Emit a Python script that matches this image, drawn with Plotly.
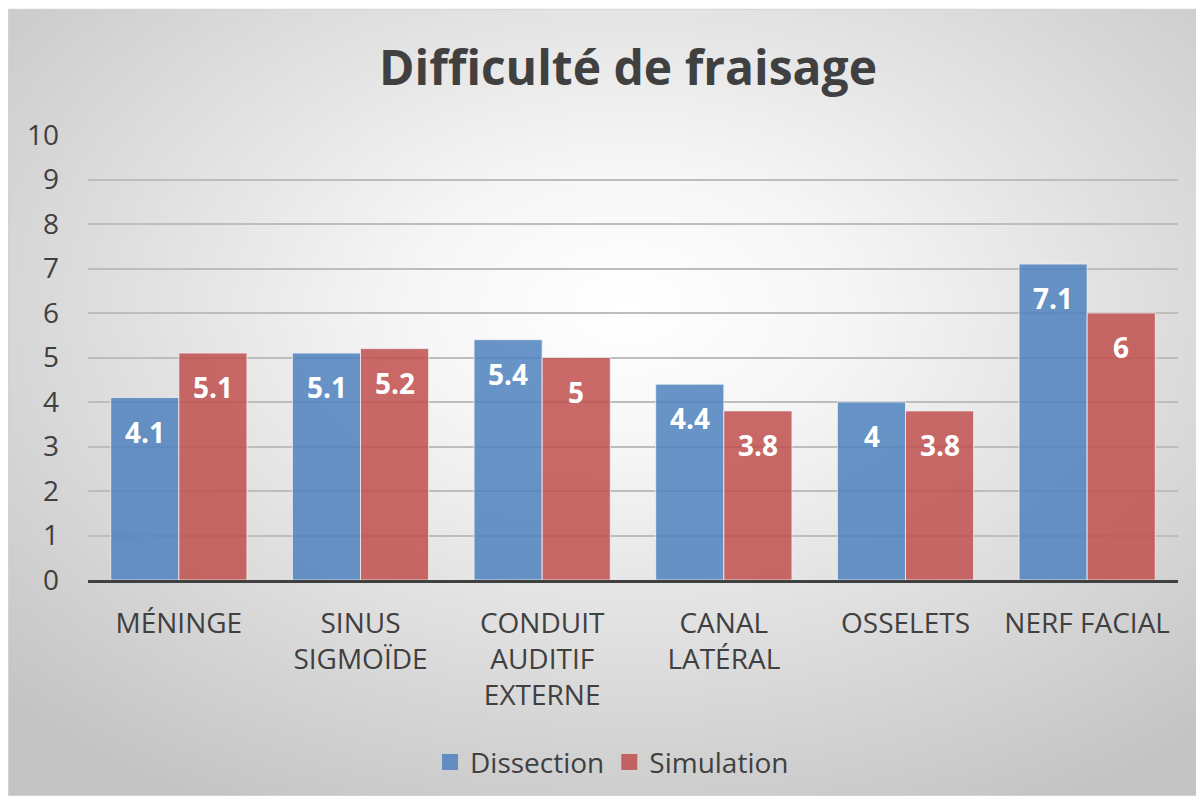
import base64
import plotly.graph_objects as go

# données
categories = ["MÉNINGE", "SINUS<br>SIGMOÏDE", "CONDUIT<br>AUDITIF<br>EXTERNE",
              "CANAL<br>LATÉRAL", "OSSELETS", "NERF FACIAL"]
series_names = ["Dissection", "Simulation"]
dissection = [4.1, 5.1, 5.4, 4.4, 4.0, 7.1]
simulation = [5.1, 5.2, 5.0, 3.8, 3.8, 6.0]
y_ticks = list(range(0, 11))

BLUE = "rgba(79,129,189,0.85)"
RED = "rgba(192,80,77,0.85)"

W, H = 1192, 791
ml, mr, mt, mb = 80, 22, 127, 217
pw, ph = W - ml - mr, H - mt - mb

# fond dégradé radial (style Excel)
svg = f"""<svg xmlns='http://www.w3.org/2000/svg' width='{W}' height='{H}' viewBox='0 0 {W} {H}'>
<defs><radialGradient id='g' cx='0.52' cy='0.38' r='0.72'>
<stop offset='0' stop-color='#ffffff'/><stop offset='0.25' stop-color='#f6f6f6'/>
<stop offset='1' stop-color='#c4c4c4'/></radialGradient></defs>
<rect x='0.5' y='0.5' width='{W-1}' height='{H-1}' fill='url(#g)' stroke='#d2d2d2' stroke-width='1'/>
</svg>"""
bg = "data:image/svg+xml;base64," + base64.b64encode(svg.encode()).decode()

fig = go.Figure()
for name, vals, col, side in [("Dissection", dissection, BLUE, -1),
                              ("Simulation", simulation, RED, 1)]:
    fig.add_trace(go.Bar(x=categories, y=vals, name=name, showlegend=False,
                         marker=dict(color=col, line=dict(color="rgba(240,240,245,0.8)", width=1))))
    # étiquettes de valeurs
    for c, v in zip(categories, vals):
        fig.add_annotation(x=c, y=v, text=f"<b>{v:g}</b>", showarrow=False,
                           xshift=side * 34, yshift=-34, yanchor="middle",
                           font=dict(color="white", size=28, family="Open Sans"))
    # entrée de légende (carré plus grand)
    fig.add_trace(go.Scatter(x=[None], y=[None], mode="markers", name=name,
                             marker=dict(symbol="square", size=18, color=col)))

fig.update_layout(
    width=W, height=H,
    margin=dict(l=ml, r=mr, t=mt, b=mb),
    paper_bgcolor="white", plot_bgcolor="rgba(0,0,0,0)",
    barmode="group", bargap=0.25, bargroupgap=0,
    font=dict(family="Open Sans", color="#404040", size=28),
    title=dict(text="<b>Difficulté de fraisage</b>", x=620 / W, xanchor="center",
               y=1 - 60 / H, yanchor="middle", font=dict(size=48, color="#404040")),
    legend=dict(orientation="h", x=(604 - ml) / pw, xanchor="center",
                y=-(757 - mt - ph) / ph, yanchor="middle",
                font=dict(size=28, color="#404040"), bgcolor="rgba(0,0,0,0)",
                itemwidth=30, traceorder="normal"),
    images=[dict(source=bg, xref="paper", yref="paper",
                 x=-ml / pw, y=1 + mt / ph, sizex=W / pw, sizey=H / ph,
                 xanchor="left", yanchor="top", sizing="stretch", layer="below")],
)
fig.update_yaxes(range=[0, 10], tickvals=y_ticks, showgrid=True, gridcolor="#bdbdbd",
                 gridwidth=1.5, zeroline=False, showline=False, ticks="",
                 ticklabelstandoff=28, tickfont=dict(size=28))
fig.update_xaxes(showline=True, linecolor="#404040", linewidth=3, ticks="",
                 tickfont=dict(size=28), ticklabelstandoff=16)

fig.write_html("out.html")
